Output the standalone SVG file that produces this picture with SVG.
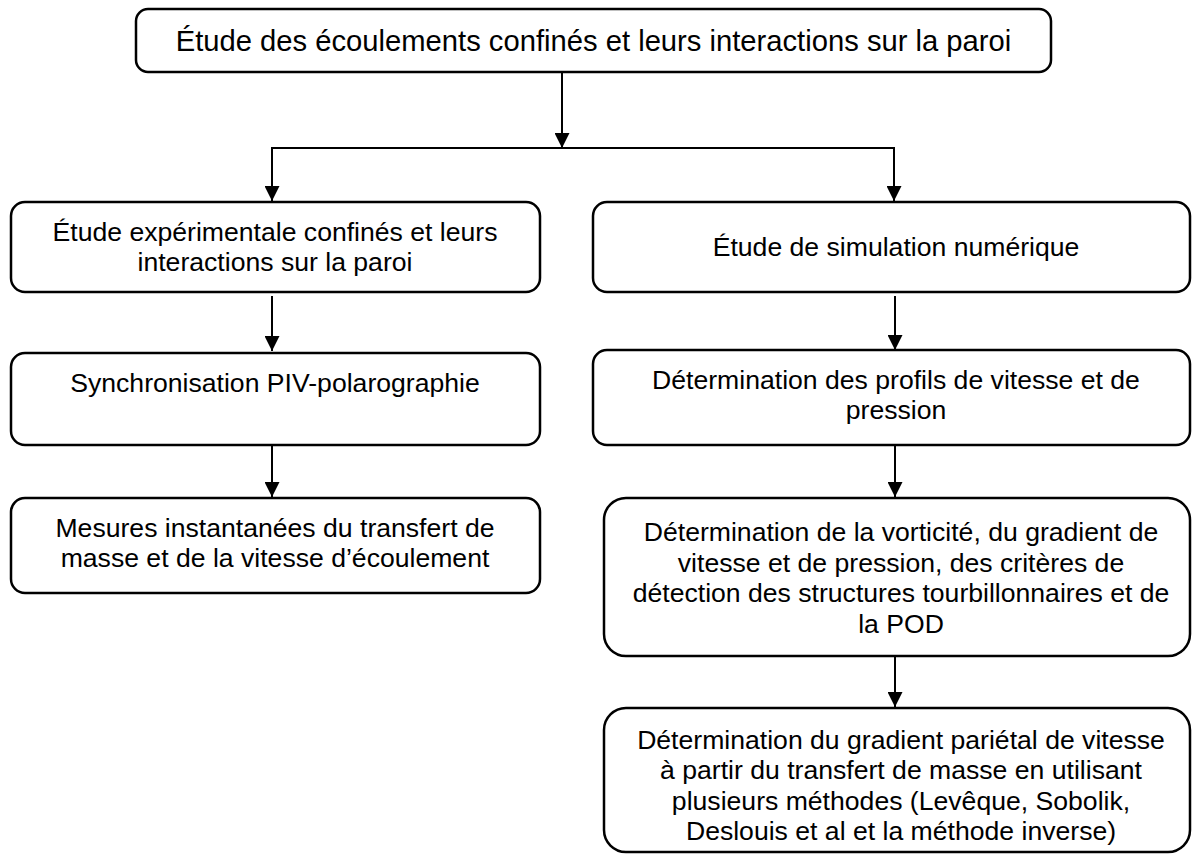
<svg xmlns="http://www.w3.org/2000/svg" width="1192" height="856" viewBox="0 0 1192 856">
<style>
.box{fill:#fff;stroke:#000;stroke-width:2.5}
.t{font-family:"Liberation Sans",Arial,sans-serif;font-size:26.6px;fill:#000;text-anchor:middle}
.top{font-size:29.2px}
.c{stroke:#000;stroke-width:2;fill:none}
</style>
<defs>
<marker id="ah" markerWidth="15" markerHeight="15" refX="15" refY="7.5" orient="auto" markerUnits="userSpaceOnUse">
<path d="M0,0 L15,7.5 L0,15 Z" fill="#000"/>
</marker>
</defs>
<g id="connectors">
<line class="c" x1="562" y1="72" x2="562" y2="148" marker-end="url(#ah)"/>
<line class="c" x1="272" y1="148" x2="894" y2="148"/>
<line class="c" x1="272" y1="147" x2="272" y2="201" marker-end="url(#ah)"/>
<line class="c" x1="894" y1="147" x2="894" y2="201" marker-end="url(#ah)"/>
<line class="c" x1="272" y1="296" x2="272" y2="351" marker-end="url(#ah)"/>
<line class="c" x1="272" y1="445" x2="272" y2="497" marker-end="url(#ah)"/>
<line class="c" x1="895" y1="296" x2="895" y2="350" marker-end="url(#ah)"/>
<line class="c" x1="895" y1="445" x2="895" y2="497" marker-end="url(#ah)"/>
<line class="c" x1="895" y1="656" x2="895" y2="707" marker-end="url(#ah)"/>
</g>
<g id="n0">
<rect class="box" x="136" y="9" width="915" height="63" rx="12"/>
<text class="t top" x="593.5" y="51">Étude des écoulements confinés et leurs interactions sur la paroi</text>
</g>
<g id="n1">
<rect class="box" x="11" y="202" width="529" height="90" rx="14"/>
<text class="t" x="275" y="241">Étude expérimentale confinés et leurs</text>
<text class="t" x="275" y="271">interactions sur la paroi</text>
</g>
<g id="n2">
<rect class="box" x="11" y="353" width="529" height="92" rx="14"/>
<text class="t" x="275" y="392">Synchronisation PIV-polarographie</text>
</g>
<g id="n3">
<rect class="box" x="11" y="498" width="529" height="95" rx="14"/>
<text class="t" x="275" y="537">Mesures instantanées du transfert de</text>
<text class="t" x="275" y="567">masse et de la vitesse d’écoulement</text>
</g>
<g id="n4">
<rect class="box" x="593" y="202" width="597" height="90" rx="14"/>
<text class="t" x="896" y="256">Étude de simulation numérique</text>
</g>
<g id="n5">
<rect class="box" x="593" y="350" width="597" height="95" rx="14"/>
<text class="t" x="896" y="389">Détermination des profils de vitesse et de</text>
<text class="t" x="896" y="419">pression</text>
</g>
<g id="n6">
<rect class="box" x="604" y="498" width="586" height="158" rx="22"/>
<text class="t" x="901" y="541">Détermination de la vorticité, du gradient de</text>
<text class="t" x="901" y="571.5">vitesse et de pression, des critères de</text>
<text class="t" x="901" y="602">détection des structures tourbillonnaires et de</text>
<text class="t" x="901" y="632.5">la POD</text>
</g>
<g id="n7">
<rect class="box" x="604" y="708" width="586" height="144" rx="22"/>
<text class="t" x="901" y="748.5">Détermination du gradient pariétal de vitesse</text>
<text class="t" x="901" y="779">à partir du transfert de masse en utilisant</text>
<text class="t" x="901" y="809.5">plusieurs méthodes (Levêque, Sobolik,</text>
<text class="t" x="901" y="840">Deslouis et al et la méthode inverse)</text>
</g>
</svg>
